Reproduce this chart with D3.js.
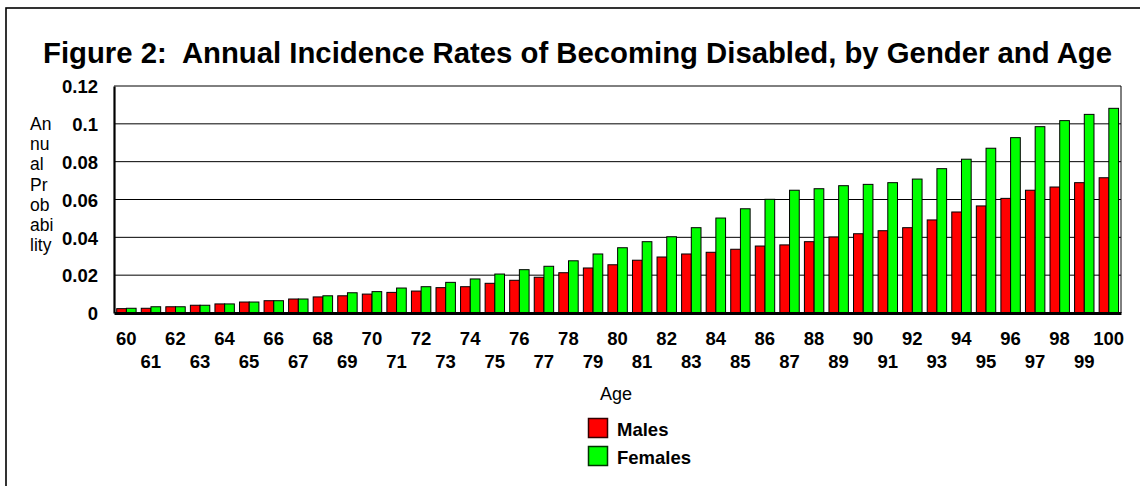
<!DOCTYPE html>
<html>
<head>
<meta charset="utf-8">
<script src="https://cdn.jsdelivr.net/npm/d3@7"></script>
<style>
  html, body { margin: 0; padding: 0; background: #fff; }
  svg { display: block; font-family: "Liberation Sans", Arial, sans-serif; }
</style>
</head>
<body>
<svg id="chart" width="1140" height="486"></svg>
<script>
const title = "Figure 2:  Annual Incidence Rates of Becoming Disabled, by Gender and Age";
const ages = d3.range(60, 101).map(String);
const males = [0.0023,0.0025,0.0033,0.0041,0.0048,0.0058,0.0065,0.0074,0.0085,0.0091,
  0.0100,0.0109,0.0116,0.0134,0.0139,0.0157,0.0173,0.0189,0.0213,0.0238,
  0.0255,0.0279,0.0296,0.0312,0.0321,0.0337,0.0354,0.0360,0.0377,0.0402,
  0.0419,0.0435,0.0451,0.0492,0.0534,0.0566,0.0606,0.0649,0.0666,0.0689,0.0715];
const females = [0.0025,0.0033,0.0033,0.0041,0.0048,0.0058,0.0065,0.0074,0.0091,0.0107,
  0.0113,0.0132,0.0139,0.0162,0.0180,0.0206,0.0229,0.0247,0.0276,0.0312,
  0.0345,0.0377,0.0403,0.0451,0.0502,0.0551,0.0601,0.0649,0.0657,0.0673,
  0.0680,0.0689,0.0708,0.0763,0.0813,0.0871,0.0927,0.0985,0.1017,0.1050,0.1082];
const yTicks = [0, 0.02, 0.04, 0.06, 0.08, 0.1, 0.12];
const yTitleLines = ["An","nu","al","Pr","ob","abi","lity"];
const xTitle = "Age";
const seriesNames = ["Males","Females"];
const seriesColors = ["#ff0000","#00ff00"];

const svg = d3.select("#chart");
const L = 114, R = 1121, T = 86, B = 313;

// outer frame (extends beyond canvas)
svg.append("rect").attr("x",6).attr("y",8).attr("width",1160).attr("height",500)
  .attr("fill","#fff").attr("stroke","#000").attr("stroke-width",1.6);

// title
svg.append("text").attr("x",577.5).attr("y",63).attr("text-anchor","middle")
  .attr("font-size",29.3).attr("font-weight","bold").style("white-space","pre")
  .text(title);

const x = d3.scaleBand().domain(ages).range([L, R]).padding(0);
const y = d3.scaleLinear().domain([0, 0.12]).range([B, T]);
const bw = x.bandwidth();

// gridlines
svg.append("g").selectAll("line").data(yTicks.filter(d => d > 0))
  .join("line").attr("x1",L).attr("x2",R).attr("y1",d=>y(d)).attr("y2",d=>y(d))
  .attr("stroke","#000").attr("stroke-width",1);

// plot frame right
svg.append("line").attr("x1",R).attr("x2",R).attr("y1",T).attr("y2",B).attr("stroke","#000").attr("stroke-width",1);

// y axis
const yAxis = d3.axisLeft(y).tickValues(yTicks).tickSize(0).tickPadding(16)
  .tickFormat(d => d === 0 ? "0" : String(+d.toFixed(2)));
const gy = svg.append("g").attr("transform",`translate(${L},0)`).call(yAxis);
gy.select(".domain").attr("stroke","#000").attr("stroke-width",2.2);
gy.selectAll("text").attr("font-size",18.5).attr("font-weight","bold")
  .attr("font-family","Liberation Sans, Arial, sans-serif").attr("fill","#000")
  .attr("dy","0.36em");

// bars
const groups = svg.append("g").selectAll("g").data(ages).join("g")
  .attr("transform", d => `translate(${x(d)},0)`);
groups.append("rect")
  .attr("x", bw*0.11).attr("width", bw*0.395)
  .attr("y", (d,i) => y(males[i])).attr("height", (d,i) => B - y(males[i]))
  .attr("fill", seriesColors[0]).attr("stroke","#000").attr("stroke-width",1);
groups.append("rect")
  .attr("x", bw*0.505).attr("width", bw*0.395)
  .attr("y", (d,i) => y(females[i])).attr("height", (d,i) => B - y(females[i]))
  .attr("fill", seriesColors[1]).attr("stroke","#000").attr("stroke-width",1);

// x axis
const xAxis = d3.axisBottom(x).tickSize(0).tickPadding(0);
const gx = svg.append("g").attr("transform",`translate(0,${B})`).call(xAxis);
gx.select(".domain").attr("stroke","#000").attr("stroke-width",3);
gx.selectAll("text").attr("font-size",18.5).attr("font-weight","bold")
  .attr("font-family","Liberation Sans, Arial, sans-serif").attr("fill","#000")
  .attr("dy", null)
  .attr("y", (d,i) => i % 2 === 0 ? 32 : 55);

// y title
const yt = svg.append("text").attr("font-size",17.5).attr("fill","#000");
yTitleLines.forEach((s,i) => {
  yt.append("tspan").attr("x",30).attr("y",130 + i*20.2).text(s);
});

// x title
svg.append("text").attr("x",616).attr("y",400).attr("text-anchor","middle")
  .attr("font-size",18).attr("fill","#000").text(xTitle);

// legend
const lg = svg.append("g").selectAll("g").data(seriesNames).join("g")
  .attr("transform",(d,i)=>`translate(588,${418 + i*28})`);
lg.append("rect").attr("x",0.5).attr("y",0.5).attr("width",19).attr("height",19)
  .attr("fill",(d,i)=>seriesColors[i]).attr("stroke",(d,i)=> i===0 ? "#300" : "#030").attr("stroke-width",1.5);
lg.append("text").attr("x",29).attr("y",18).attr("font-size",18.5).attr("font-weight","bold")
  .attr("fill","#000").text(d=>d);
</script>
</body>
</html>
